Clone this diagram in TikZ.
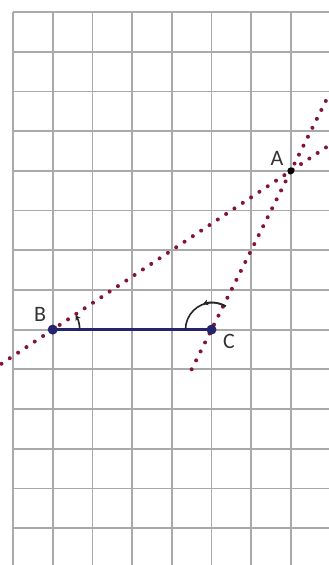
\documentclass[tikz,border=0pt]{standalone}
\usepackage{fontspec}
\setmainfont{Carlito}
\usetikzlibrary{arrows.meta,calc}
\definecolor{gridgray}{RGB}{170,170,170}
\definecolor{dotred}{RGB}{130,20,55}
\definecolor{segblue}{RGB}{35,35,110}
\tikzset{
  gridline/.style={gridgray,line width=1.8pt},
  dotline/.style={dotred,line width=4pt,line cap=round,dash pattern=on 0pt off 10pt},
  seg/.style={segblue,line width=2.6pt},
  bpt/.style={circle,fill=segblue,inner sep=0pt,minimum size=10pt},
  apt/.style={circle,fill=black,inner sep=0pt,minimum size=7pt},
  lbl/.style={font=\fontsize{22}{22}\selectfont,text=black!80},
  anglearc/.style={black!85,line width=1.6pt}
}
\begin{document}
\begin{tikzpicture}[x=1pt,y=-1pt]
\useasboundingbox (0,0) rectangle (329,565);
\fill[white] (0,0) rectangle (329,565);
% grid
\foreach \k in {0,...,7} {
  \draw[gridline] ({13+39.7*\k},12) -- ({13+39.7*\k},565);
}
\foreach \k in {0,...,13} {
  \draw[gridline] (13,{12+39.7*\k}) -- (329,{12+39.7*\k});
}
% points
\coordinate (B) at (52.7,329.6);
\coordinate (C) at (211.5,329.6);
\coordinate (A) at (290.9,170.8);
\coordinate (Bl) at ($(B)!-0.25!(A)$);
\coordinate (Ar) at ($(B)!1.16!(A)$);
\coordinate (Cl) at ($(C)!-0.25!(A)$);
\coordinate (Au) at ($(C)!1.45!(A)$);
% dotted lines
\draw[dotline] (Bl) -- (Ar);
\draw[dotline] (Cl) -- (Au);
% segment
\draw[seg] (B) -- (C);
% angle arcs
\draw[anglearc,-{Stealth[length=5pt,width=6pt]}] ($(B)+(27,0)$) arc[start angle=0,end angle=-32,radius=27];
\draw[anglearc] ($(C)+(-26,0)$) arc[start angle=180,end angle=300,radius=27];
\draw[anglearc,-{Stealth[length=5pt,width=6pt]}] ($(C)+({27*cos(300)},{27*sin(300)})$) arc[start angle=300,end angle=252,radius=27];
% point markers
\node[bpt] (Bp) at (B) {};
\node[bpt] (Cp) at (C) {};
\node[apt] (Ap) at (A) {};
% labels
\node[lbl] (La) at (277,158) {A};
\node[lbl] (Lb) at (40,314) {B};
\node[lbl] (Lc) at (229,341) {C};
\end{tikzpicture}
\end{document}
